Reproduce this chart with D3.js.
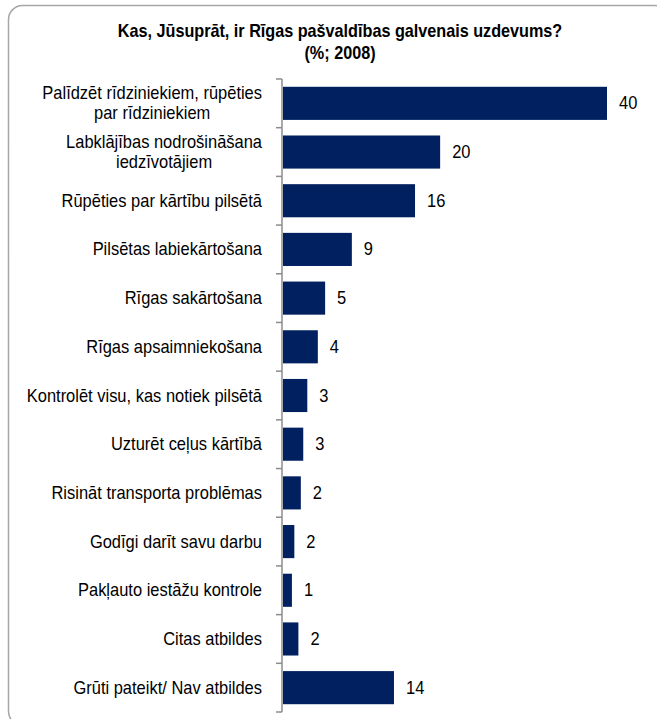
<!DOCTYPE html>
<html>
<head>
<meta charset="utf-8">
<script src="https://cdn.jsdelivr.net/npm/d3@7"></script>
<style>
  html, body { margin: 0; padding: 0; background: #fff; }
  svg { display: block; font-family: "Liberation Sans", Arial, sans-serif; }
</style>
</head>
<body>
<svg id="chart" width="657" height="719"></svg>
<script>
const titleLines = ["Kas, Jūsuprāt, ir Rīgas pašvaldības galvenais uzdevums?", "(%; 2008)"];
const categories = [
  ["Palīdzēt rīdziniekiem, rūpēties", "par rīdziniekiem"],
  ["Labklājības nodrošināšana", "iedzīvotājiem"],
  ["Rūpēties par kārtību pilsētā"],
  ["Pilsētas labiekārtošana"],
  ["Rīgas sakārtošana"],
  ["Rīgas apsaimniekošana"],
  ["Kontrolēt visu, kas notiek pilsētā"],
  ["Uzturēt ceļus kārtībā"],
  ["Risināt transporta problēmas"],
  ["Godīgi darīt savu darbu"],
  ["Pakļauto iestāžu kontrole"],
  ["Citas atbildes"],
  ["Grūti pateikt/ Nav atbildes"]
];
const values = [40, 19.4, 16.3, 8.5, 5.2, 4.3, 3.0, 2.5, 2.2, 1.4, 1.1, 1.9, 13.7];
const valueLabels = ["40", "20", "16", "9", "5", "4", "3", "3", "2", "2", "1", "2", "14"];

const svg = d3.select("#chart");
const keys = categories.map((c, i) => i);

function addText(parent, x, y, str, size, sx, anchor, weight) {
  return parent.append("text")
    .attr("transform", `translate(${x},${y}) scale(${sx},1)`)
    .attr("font-size", size)
    .attr("font-weight", weight || "normal")
    .attr("text-anchor", anchor || "start")
    .attr("fill", "#000")
    .text(str);
}

// frame
svg.append("rect")
  .attr("x", 8.5).attr("y", 5.5)
  .attr("width", 660).attr("height", 720)
  .attr("rx", 14).attr("ry", 14)
  .attr("fill", "none").attr("stroke", "#a6a6a6").attr("stroke-width", 1.5);

// title
titleLines.forEach((t, i) => addText(svg, 340, 37 + i * 22, t, 18, 0.9, "middle", "bold"));

const y = d3.scaleBand().domain(keys).range([79, 712]).paddingInner(0.32).paddingOuter(0.16);
const x = d3.scaleLinear().domain([0, 40]).range([283, 607]);

// bars
svg.append("g").selectAll("rect").data(values).join("rect")
  .attr("x", x(0))
  .attr("y", (d, i) => y(i))
  .attr("width", d => x(d) - x(0))
  .attr("height", y.bandwidth())
  .attr("fill", "#002060");

const FS = 18, SX = 0.915;

// value labels
const vg = svg.append("g");
values.forEach((d, i) => {
  addText(vg, x(d) + 12, y(i) + y.bandwidth() / 2 + 6, valueLabels[i], FS, SX, "start");
});

// axis line & boundary ticks
const step = y.step();
const start = y(0) - y.paddingOuter() * step;
const boundaries = d3.range(categories.length + 1).map(i => start + i * step);
const axisG = svg.append("g").attr("stroke", "#8c8c8c").attr("stroke-width", 1.5);
axisG.append("line").attr("x1", 282).attr("x2", 282)
  .attr("y1", boundaries[0]).attr("y2", boundaries[boundaries.length - 1]);
axisG.selectAll("line.tick").data(boundaries).join("line").attr("class", "tick")
  .attr("x1", 276).attr("x2", 282).attr("y1", d => d).attr("y2", d => d);

// category labels: block right-aligned at 262, lines centered within block
const labelRight = 262;
const lineH = 20;
const lg = svg.append("g");
categories.forEach((lines, i) => {
  const cy = y(i) + y.bandwidth() / 2;
  const ys = lines.map((t, j) => cy + (j - (lines.length - 1) / 2) * lineH + 6);
  const texts = lines.map((t, j) => addText(lg, 0, ys[j], t, FS, SX, "middle"));
  const maxW = d3.max(texts, t => t.node().getComputedTextLength() * SX);
  const cx = labelRight - maxW / 2;
  texts.forEach((t, j) => t.attr("transform", `translate(${cx},${ys[j]}) scale(${SX},1)`));
});
</script>
</body>
</html>
